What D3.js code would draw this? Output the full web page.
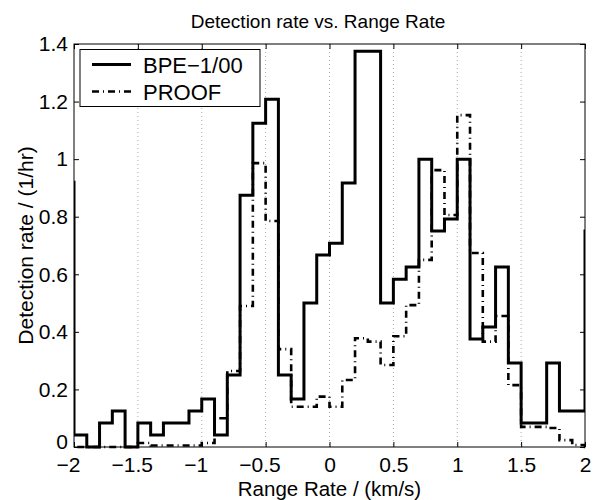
<!DOCTYPE html>
<html>
<head>
<meta charset="utf-8">
<script src="https://cdn.jsdelivr.net/npm/d3@7"></script>
<style>
  html, body { margin: 0; padding: 0; background: #fff; }
  svg { display: block; }
  text { font-family: "Liberation Sans", Arial, Helvetica, sans-serif; fill: #000; }
</style>
</head>
<body>
<svg id="chart" width="596" height="500"></svg>
<script>
// ---- data ----
const binEdges = [-2.1, -2.0, -1.9, -1.8, -1.7, -1.6, -1.5, -1.4, -1.3, -1.2, -1.1,
  -1.0, -0.9, -0.8, -0.7, -0.6, -0.5, -0.4, -0.3, -0.2, -0.1,
  0.0, 0.1, 0.2, 0.3, 0.4, 0.5, 0.6, 0.7, 0.8, 0.9,
  1.0, 1.1, 1.2, 1.3, 1.4, 1.5, 1.6, 1.7, 1.8, 1.9, 2.0, 2.1];
const bpeValues = [0.92,
  0.042, 0, 0.083, 0.125, 0, 0.083, 0.042, 0.083, 0.083, 0.125,
  0.167, 0.042, 0.25, 0.875, 1.125, 1.208, 0.25, 0.167, 0.5, 0.667,
  0.708, 0.917, 1.375, 1.375, 0.5, 0.583, 0.625, 1.0, 0.75, 0.792,
  1.0, 0.375, 0.417, 0.625, 0.292, 0.083, 0.083, 0.292, 0.125, 0.125,
  0.75];
const proofValues = [0,
  0, 0, 0, 0, 0, 0.014, 0.005, 0.005, 0.005, 0.005,
  0.014, 0.1, 0.264, 0.49, 0.986, 0.785, 0.34, 0.14, 0.14, 0.175,
  0.14, 0.233, 0.378, 0.366, 0.285, 0.385, 0.493, 0.65, 0.962, 0.806,
  1.153, 0.674, 0.366, 0.455, 0.215, 0.07, 0.07, 0.066, 0.024, 0.007,
  0];
const seriesNames = ["BPE\u22121/00", "PROOF"];
const xTicks = [-2, -1.5, -1, -0.5, 0, 0.5, 1, 1.5, 2];
const yTicks = [0, 0.2, 0.4, 0.6, 0.8, 1, 1.2, 1.4];
const titleText = "Detection rate vs. Range Rate";
const xLabelText = "Range Rate / (km/s)";
const yLabelText = "Detection rate / (1/hr)";

// ---- layout ----
const L = 74, R = 585, T = 44, B = 447;
const FONT = 21;
const svg = d3.select("#chart");
const x = d3.scaleLinear().domain([-2, 2]).range([L, R]);
const y = d3.scaleLinear().domain([0, 1.4]).range([B, T]);

svg.append("defs").append("clipPath").attr("id", "clip")
  .append("rect").attr("x", L).attr("y", T).attr("width", R - L).attr("height", B - T + 2);

// grid (vertical dotted)
svg.append("g").selectAll("line")
  .data(xTicks.filter(d => d > -2 && d < 2))
  .join("line")
  .attr("x1", d => x(d)).attr("x2", d => x(d))
  .attr("y1", T).attr("y2", B)
  .attr("stroke", "#aaa").attr("stroke-width", 1)
  .attr("stroke-dasharray", "1,3");

// stairs
function stairsPoints(vals) {
  const pts = vals.map((v, i) => [binEdges[i], v]);
  pts.push([binEdges[vals.length], vals[vals.length - 1]]);
  return pts;
}
const line = d3.line().x(d => x(d[0])).y(d => y(d[1])).curve(d3.curveStepAfter);
const plotG = svg.append("g").attr("clip-path", "url(#clip)");
plotG.append("path").datum(stairsPoints(proofValues))
  .attr("d", line).attr("fill", "none").attr("stroke", "#000")
  .attr("stroke-width", 2.6).attr("stroke-dasharray", "7,4,1,4");
plotG.append("path").datum(stairsPoints(bpeValues))
  .attr("d", line).attr("fill", "none").attr("stroke", "#000")
  .attr("stroke-width", 3).attr("stroke-linejoin", "miter");

// axes
const fmt = d3.format("~g");
const xAxisB = d3.axisBottom(x).tickValues(xTicks).tickFormat(fmt).tickSizeInner(-5).tickSizeOuter(0).tickPadding(10.4);
const xAxisT = d3.axisTop(x).tickValues(xTicks).tickFormat("").tickSizeInner(-5).tickSizeOuter(0);
const yAxisL = d3.axisLeft(y).tickValues(yTicks).tickFormat(fmt).tickSizeInner(-5).tickSizeOuter(0).tickPadding(6);
const yAxisR = d3.axisRight(y).tickValues(yTicks).tickFormat("").tickSizeInner(-5).tickSizeOuter(0);

function styleAxis(g) {
  g.select(".domain").remove();
  g.selectAll("line").attr("stroke", "#000");
  g.selectAll("text").attr("font-size", FONT).attr("font-family", "Liberation Sans, Arial, sans-serif").attr("fill", "#000");
}
const gxB = svg.append("g").attr("transform", `translate(0,${B})`).call(xAxisB).call(styleAxis);
// MATLAB-style: centre the number, let the minus sign hang to the left
gxB.selectAll(".tick text").filter(d => d < 0).attr("dx", "-0.29em");
svg.append("g").attr("transform", `translate(0,${T})`).call(xAxisT).call(styleAxis);
const gyL = svg.append("g").attr("transform", `translate(${L},0)`).call(yAxisL).call(styleAxis);
// nudge the bottom label up a little so it clears the "−2" tick label
gyL.selectAll(".tick text").filter(d => d === 0).attr("dy", "0.08em");
svg.append("g").attr("transform", `translate(${R},0)`).call(yAxisR).call(styleAxis);

// box
svg.append("rect").attr("x", L).attr("y", T).attr("width", R - L).attr("height", B - T)
  .attr("fill", "none").attr("stroke", "#000").attr("stroke-width", 1);

// legend
const lg = svg.append("g");
lg.append("rect").attr("x", 80).attr("y", 49.5).attr("width", 180).attr("height", 57)
  .attr("fill", "#fff").attr("stroke", "#000").attr("stroke-width", 1);
const legendRows = [
  {name: seriesNames[0], dash: null, w: 3, yy: 64.5},
  {name: seriesNames[1], dash: "7,4,1,4", w: 2.6, yy: 91.5}
];
legendRows.forEach(r => {
  const ln = lg.append("line").attr("x1", 92).attr("x2", 131).attr("y1", r.yy).attr("y2", r.yy)
    .attr("stroke", "#000").attr("stroke-width", r.w);
  if (r.dash) ln.attr("stroke-dasharray", r.dash);
  lg.append("text").attr("x", 143).attr("y", r.yy + 8.5).attr("font-size", 22).text(r.name);
});

// title and labels
svg.append("text").attr("x", 318).attr("y", 28).attr("text-anchor", "middle")
  .attr("font-size", 19).text(titleText);
svg.append("text").attr("x", (L + R) / 2).attr("y", 495.5).attr("text-anchor", "middle")
  .attr("font-size", 20.5).text(xLabelText);
svg.append("text").attr("transform", `translate(32.5,${(T + B) / 2}) rotate(-90)`)
  .attr("text-anchor", "middle").attr("font-size", FONT).text(yLabelText);
</script>
</body>
</html>
